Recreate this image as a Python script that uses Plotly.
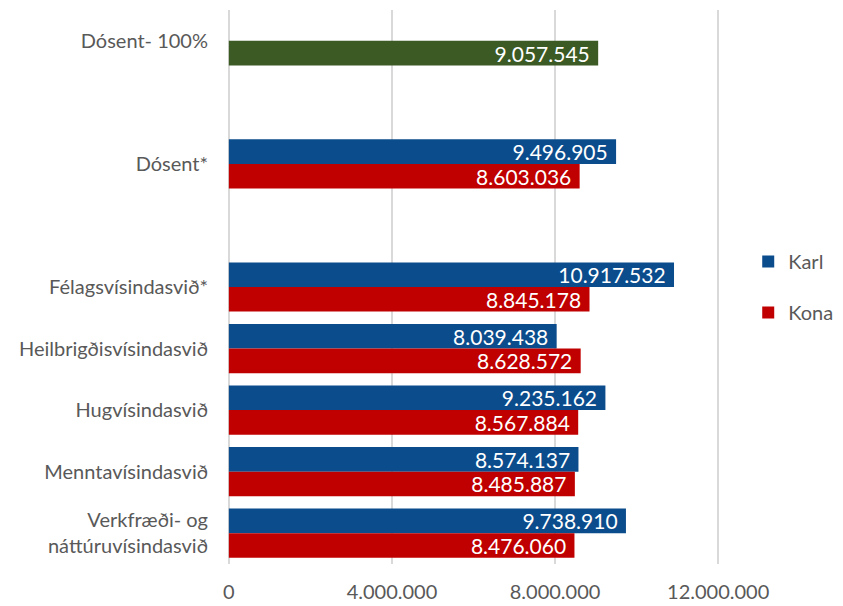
import plotly.graph_objects as go

categories = ["Dósent- 100%", " ", "Dósent*", "  ", "Félagsvísindasvið*",
              "Heilbrigðisvísindasvið", "Hugvísindasvið", "Menntavísindasvið",
              "Verkfræði- og<br>náttúruvísindasvið"]

total_cat = ["Dósent- 100%"]
total_val = [9057545]

group_cats = ["Dósent*", "Félagsvísindasvið*", "Heilbrigðisvísindasvið", "Hugvísindasvið",
              "Menntavísindasvið", "Verkfræði- og<br>náttúruvísindasvið"]
karl = [9496905, 10917532, 8039438, 9235162, 8574137, 9738910]
kona = [8603036, 8845178, 8628572, 8567884, 8485887, 8476060]

tick_vals = [0, 4000000, 8000000, 12000000]

FONT = "Lato, Open Sans, sans-serif"
GRAY = "#595959"
FS = 20
LFS = 21
TT = "%{x:,.0f}\u00a0"

fig = go.Figure()
fig.add_trace(go.Bar(y=group_cats, x=karl, name="Karl", orientation="h", legendgroup="a",
                     marker=dict(color="#0B4C8C", line=dict(width=0)),
                     width=0.4, offset=-0.4,
                     text=karl, texttemplate=TT, textposition="inside",
                     insidetextanchor="end", textfont=dict(color="white", size=LFS, family=FONT)))
fig.add_trace(go.Bar(y=group_cats, x=kona, name="Kona", orientation="h", legendgroup="b",
                     marker=dict(color="#C00000", line=dict(width=0)),
                     width=0.4, offset=0.0,
                     text=kona, texttemplate=TT, textposition="inside",
                     insidetextanchor="end", textfont=dict(color="white", size=LFS, family=FONT)))
fig.add_trace(go.Bar(y=total_cat, x=total_val, name="Alls", orientation="h", showlegend=False,
                     marker=dict(color="#3B5A24", line=dict(width=0)),
                     width=0.4, offset=0.0,
                     text=total_val, texttemplate=TT, textposition="inside",
                     insidetextanchor="end", textfont=dict(color="white", size=LFS, family=FONT)))

fig.update_layout(
    width=843, height=606,
    margin=dict(l=226, r=122, t=10, b=42, autoexpand=False),
    barmode="overlay",
    uniformtext=dict(minsize=LFS, mode="show"),
    separators=",.",
    plot_bgcolor="white", paper_bgcolor="white",
    font=dict(family=FONT, color=GRAY, size=FS),
    legend=dict(x=1.055, y=0.5, xanchor="left", yanchor="middle",
                font=dict(size=FS, color=GRAY, family=FONT),
                tracegroupgap=22, itemwidth=30, bgcolor="rgba(0,0,0,0)"),
    xaxis=dict(range=[-70000, 12070000], tickvals=tick_vals, tickformat=",.0f",
               showgrid=True, gridcolor="#D9D9D9", gridwidth=1.5, zeroline=False,
               showline=False, ticks="", ticklabelstandoff=14,
               tickfont=dict(size=FS, color=GRAY, family=FONT)),
    yaxis=dict(categoryorder="array", categoryarray=categories, type="category",
               range=[8.5, -0.5], showgrid=False, zeroline=False, showline=False,
               ticks="", ticklabelstandoff=17,
               tickfont=dict(size=FS, color=GRAY, family=FONT)),
)

fig.write_html("out.html")
